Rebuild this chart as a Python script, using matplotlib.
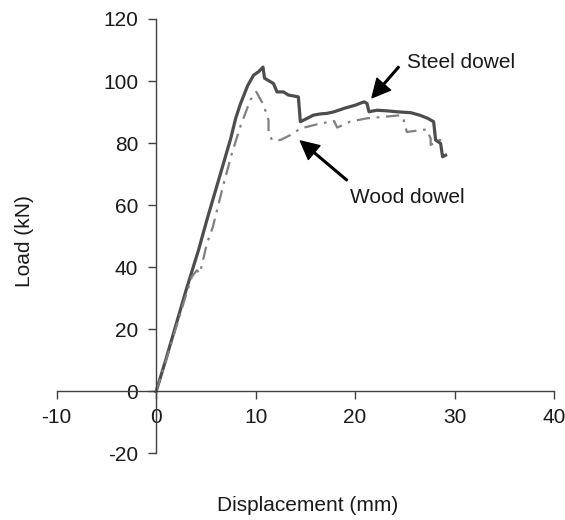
import matplotlib
matplotlib.use('Agg')
import matplotlib.pyplot as plt

plt.rcParams['font.family'] = ['Liberation Sans', 'DejaVu Sans']
plt.rcParams['axes.unicode_minus'] = False

# steel dowel curve
steel_x = [0, 1.0, 2.0, 3.0, 4.26, 5.1, 6.5, 7.5, 8.0, 8.46, 9.2, 9.8, 10.3, 10.64, 10.74,
           10.9, 11.8, 12.15, 12.8, 13.3, 14.3, 14.5, 15.2, 15.8, 16.5, 17.2, 17.9,
           18.9, 20.0, 20.9, 21.2, 21.4, 22.2, 23.2, 24.2, 25.6, 26.5, 27.3, 27.9,
           28.1, 28.6, 28.8, 29.1]
steel_y = [0, 10.5, 21.5, 32.5, 45.5, 55.2, 70.5, 81.5, 88.0, 92.5, 98.5, 101.9, 103.0, 104.1, 104.5,
           100.9, 99.2, 96.5, 96.5, 95.5, 94.9, 86.9, 88.0, 89.0, 89.4, 89.6, 90.1,
           91.2, 92.2, 93.3, 92.8, 90.1, 90.6, 90.4, 90.1, 89.8, 89.0, 88.0, 86.9,
           81.0, 79.9, 75.6, 76.1]

# wood dowel curve
wood_x = [0, 1.0, 2.0, 3.0, 3.6, 4.1, 4.4, 5.1, 5.7, 6.8, 7.6, 8.46, 9.47, 10.07,
          10.8, 11.3, 11.3, 11.65, 12.5, 13.5, 14.5, 15.5, 16.5, 17.9, 18.2, 19.5,
          21.2, 23.0, 24.6, 24.9, 25.2, 26.2, 27.2, 27.6, 27.6, 28.4, 29.3]
wood_y = [0, 10.0, 20.5, 31.0, 37.0, 39.0, 38.0, 47.6, 53.0, 67.0, 76.5, 85.3, 93.9, 96.5,
          92.3, 87.4, 83.6, 81.0, 81.0, 82.6, 84.7, 85.5, 86.3, 87.1, 85.0, 86.9,
          88.0, 88.5, 89.0, 87.4, 83.6, 84.0, 84.4, 81.5, 79.4, 81.0, 81.0]

x_ticks = [-10, 0, 10, 20, 30, 40]
y_ticks = [-20, 0, 20, 40, 60, 80, 100, 120]

fig = plt.figure(figsize=(5.65, 5.2), dpi=100)
ax = fig.add_axes([0.1003, 0.128, 0.8802, 0.8355])

ax.plot(steel_x, steel_y, color='#4d4d4d', lw=2.3, solid_joinstyle='round')
ax.plot(wood_x, wood_y, color='#808080', lw=1.6, linestyle=(0, (6, 3, 1.2, 3)))

ax.set_xlim(-10, 40)
ax.set_ylim(-20, 120)
ax.set_xticks(x_ticks)
ax.set_yticks(y_ticks)

for side in ['top', 'right']:
    ax.spines[side].set_visible(False)
ax.spines['left'].set_position(('data', 0))
ax.spines['bottom'].set_position(('data', 0))
for side in ['left', 'bottom']:
    ax.spines[side].set_color('#404040')
    ax.spines[side].set_linewidth(1.0)

ax.tick_params(axis='both', direction='out', length=6, width=1.0, color='#404040',
               labelsize=15, labelcolor='#1a1a1a')
ax.tick_params(axis='y', pad=7)
ax.tick_params(axis='x', pad=6)

fig.text(0.044, 0.536, 'Load (kN)', rotation=90, ha='center', va='center', fontsize=15, color='#1a1a1a')
fig.text(0.545, 0.027, 'Displacement (mm)', ha='center', va='center', fontsize=15, color='#1a1a1a')

arrow = dict(facecolor='black', edgecolor='black', width=1.2, headwidth=13, headlength=13, shrink=0)
ax.annotate('', xy=(21.7, 94.6), xytext=(24.4, 104.6), arrowprops=arrow)
ax.annotate('', xy=(14.5, 80.7), xytext=(19.2, 68.0), arrowprops=arrow)
ax.text(25.2, 106, 'Steel dowel', fontsize=15, ha='left', va='center', color='#1a1a1a')
ax.text(19.5, 62.6, 'Wood dowel', fontsize=15, ha='left', va='center', color='#1a1a1a')

fig.savefig('out.png', dpi=100)
